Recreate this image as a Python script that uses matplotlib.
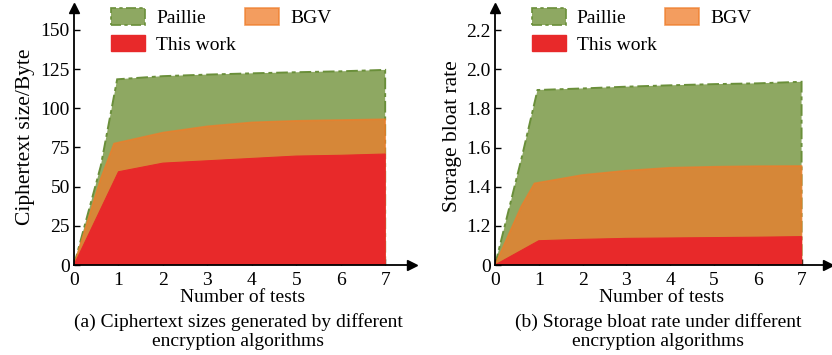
import matplotlib
matplotlib.use('Agg')
from matplotlib import pyplot as plt
from matplotlib.patches import Patch

plt.rcParams['font.family'] = ['Liberation Serif', 'DejaVu Serif']
plt.rcParams['font.size'] = 14

# (a) ciphertext size / Byte
x_paillie = [0, 0.6, 0.97, 2, 3, 4, 5, 6, 7]
x_bgv = [0, 0.6, 0.9, 2, 3, 4, 5, 6, 7]
x_ours = [0, 1, 2, 3, 4, 5, 6, 7]
paillie_a = [0, 63, 118.5, 120.5, 121.5, 122.3, 123, 123.6, 124.5]
bgv_a = [0, 55, 77.5, 84.5, 88.5, 91, 92, 92.5, 93]
ours_a = [0, 59.5, 65, 66.5, 68, 69.5, 70, 70.8]

# (b) storage bloat rate (axis is broken: baseline 1.0 is labelled "0")
paillie_b = [1.0, 1.54, 1.894, 1.902, 1.911, 1.918, 1.924, 1.928, 1.936]
bgv_b = [1.0, 1.30, 1.417, 1.46, 1.482, 1.497, 1.502, 1.505, 1.506]
ours_b = [1.0, 1.124, 1.131, 1.136, 1.138, 1.140, 1.142, 1.145]

xticks = [0, 1, 2, 3, 4, 5, 6, 7]
yticks_a = [0, 25, 50, 75, 100, 125, 150]
yticks_b = [1.0, 1.2, 1.4, 1.6, 1.8, 2.0, 2.2]
yticklabels_b = ['0', '1.2', '1.4', '1.6', '1.8', '2.0', '2.2']

labels = ['Paillie', 'BGV', 'This work']
c_green = '#8ea862'
c_green_edge = '#6a8f3a'
c_orange = '#ef7d2a'
c_red = '#e8292a'


def draw(ax, base, pa, bg, ou):
    ax.fill(x_paillie + [x_paillie[-1], 0], pa + [base, base], facecolor=c_green,
            edgecolor=c_green_edge, linestyle=(0, (6, 2, 2, 2)), linewidth=1.4, zorder=1)
    ax.fill(x_bgv + [x_bgv[-1], 0], bg + [base, base], facecolor=c_orange, alpha=0.75,
            edgecolor=c_orange, linewidth=1.2, zorder=2)
    ax.fill(x_ours + [x_ours[-1], 0], ou + [base, base], facecolor=c_red,
            edgecolor=c_red, linewidth=0.8, zorder=3)
    for s in ['top', 'right']:
        ax.spines[s].set_visible(False)
    for s in ['left', 'bottom']:
        ax.spines[s].set_linewidth(1.3)
        ax.spines[s].set_zorder(5)
    ax.plot(1, 0, '>', color='k', markersize=7, transform=ax.transAxes, clip_on=False)
    ax.plot(0, 1, '^', color='k', markersize=7, transform=ax.transAxes, clip_on=False)
    ax.set_xlim(0, 7.6)
    ax.set_xticks(xticks)
    ax.tick_params(direction='in', length=4, width=1, pad=3)
    ax.tick_params(axis='x', pad=5)
    ax.set_xlabel('Number of tests', labelpad=0)
    handles = [
        Patch(facecolor=c_green, edgecolor=c_green_edge, linestyle=(0, (6, 2, 2, 2)), linewidth=1.2),
        Patch(facecolor=c_red, edgecolor=c_red, linewidth=1),
        Patch(facecolor=c_orange, alpha=0.75, edgecolor=c_orange, linewidth=1.2),
    ]
    ax.legend(handles, [labels[0], labels[2], labels[1]], ncol=2, frameon=False,
              loc='upper left', bbox_to_anchor=(0.11, 1.0), borderpad=0, borderaxespad=0,
              handlelength=1.75, handleheight=0.93, handletextpad=0.57,
              columnspacing=0.45, labelspacing=0.4)


fig = plt.figure(figsize=(8.32, 3.55), dpi=100)
ax1 = fig.add_axes([0.089, 0.2535, 0.406, 0.724])
ax2 = fig.add_axes([0.595, 0.2535, 0.400, 0.724])

draw(ax1, 0, paillie_a, bgv_a, ours_a)
ax1.set_ylim(0, 164)
ax1.set_yticks(yticks_a)
ax1.set_ylabel('Ciphertext size/Byte', labelpad=4, fontsize=15.5)

draw(ax2, 1.0, paillie_b, bgv_b, ours_b)
ax2.set_ylim(1.0, 2.313)
ax2.set_yticks(yticks_b)
ax2.set_yticklabels(yticklabels_b)
ax2.set_ylabel('Storage bloat rate', labelpad=3, fontsize=15.5)

fig.text(0.286, 0.066, '(a) Ciphertext sizes generated by different\nencryption algorithms',
         ha='center', va='center', linespacing=1.15)
fig.text(0.791, 0.066, '(b) Storage bloat rate under different\nencryption algorithms',
         ha='center', va='center', linespacing=1.15)

fig.savefig('out.png', dpi=100)
